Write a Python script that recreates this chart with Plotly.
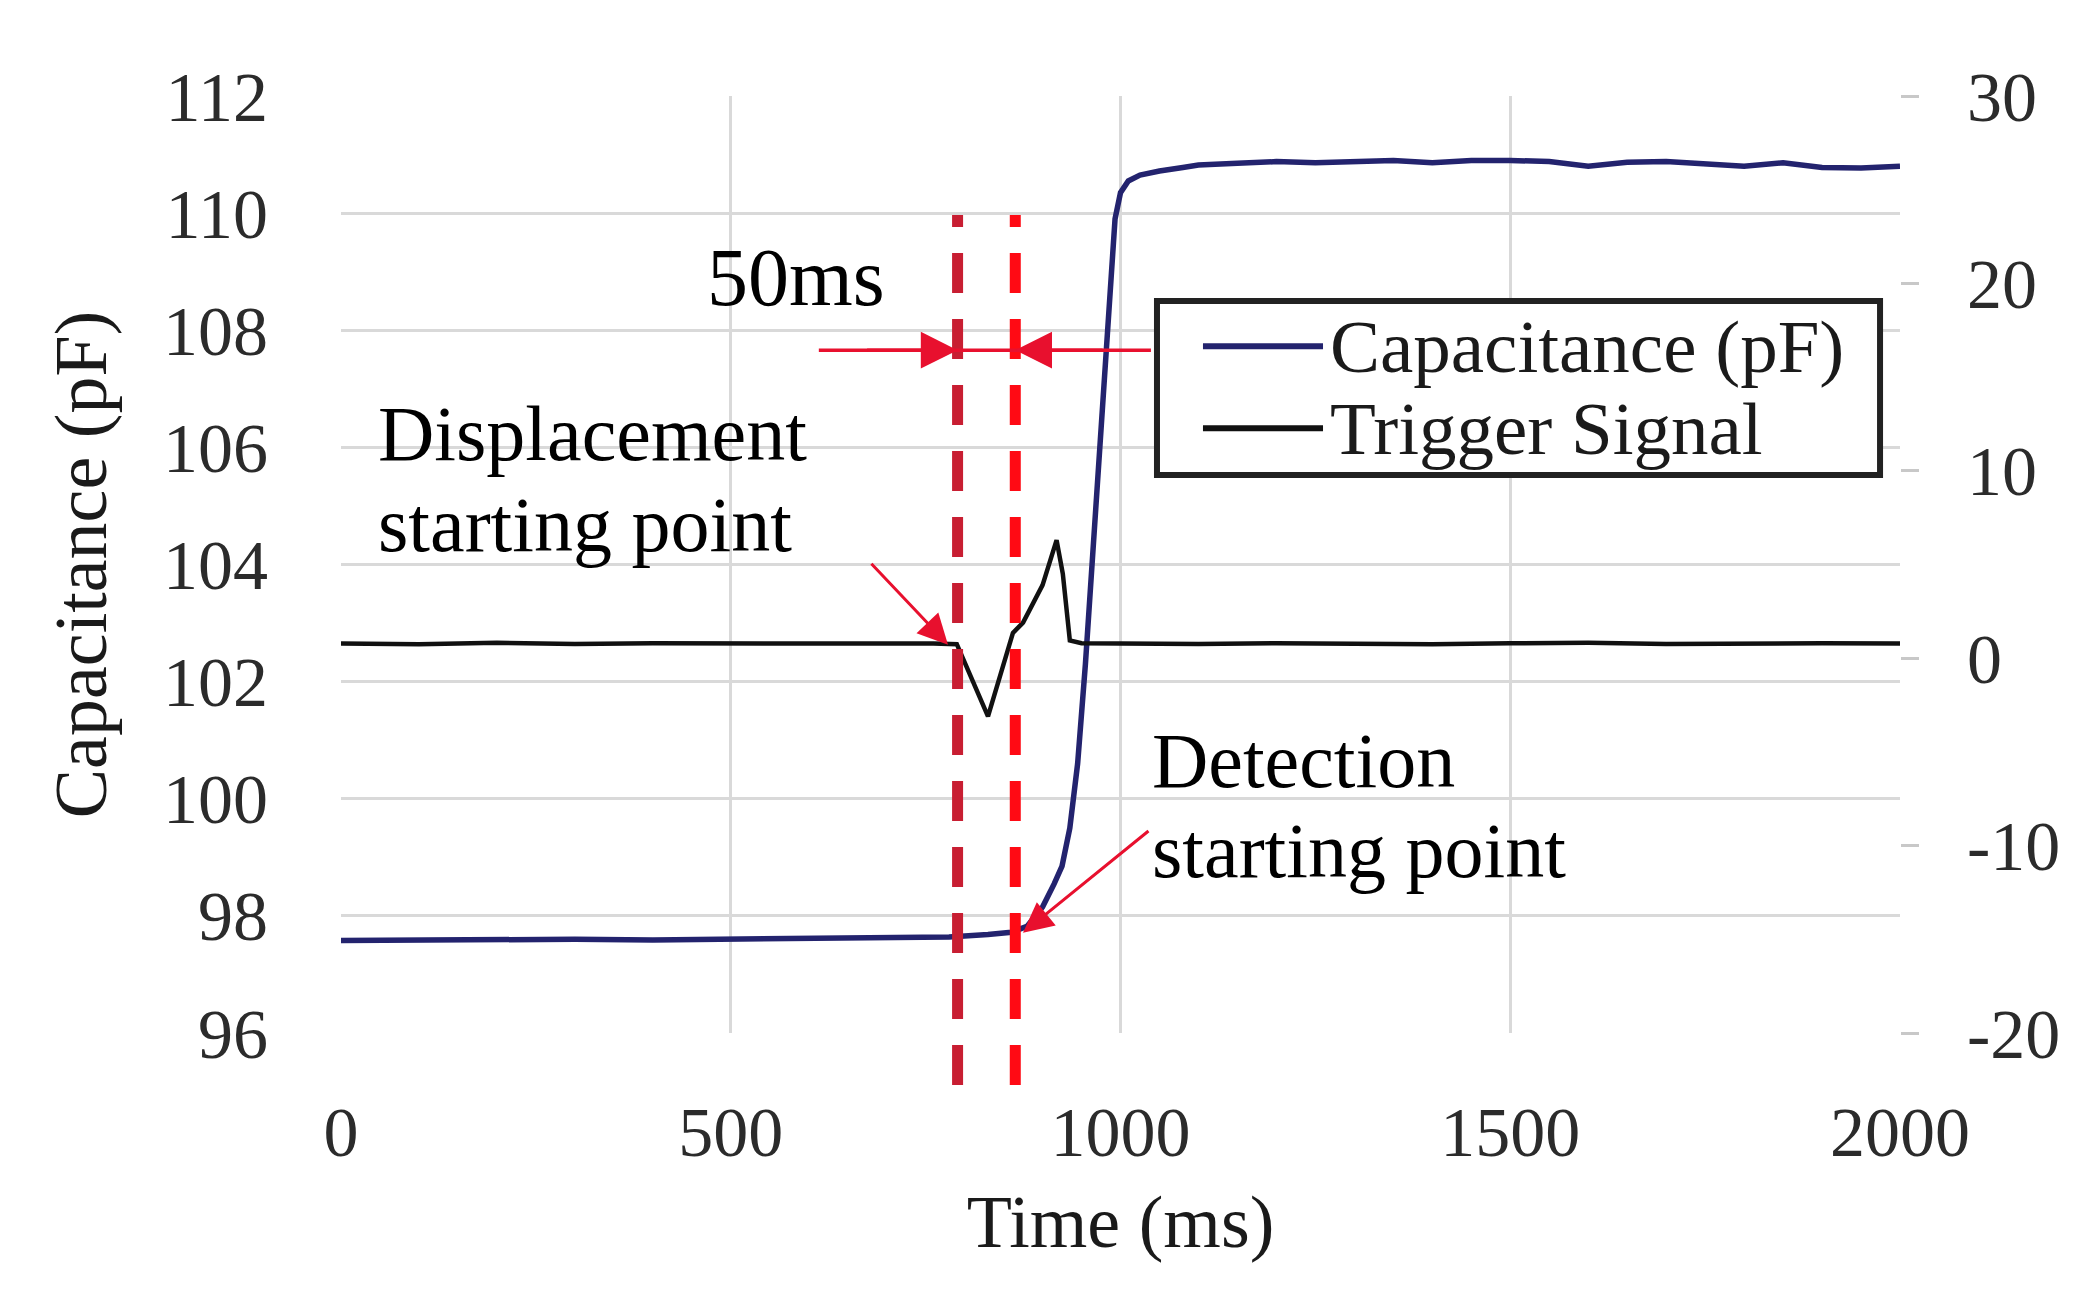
import plotly.graph_objects as go

# ---------------- data ----------------
cap_time = [0, 100, 200, 300, 400, 500, 600, 700, 780, 830, 860, 880, 900, 915, 925,
            935, 945, 955, 965, 975, 985, 993, 1000, 1010, 1025, 1050, 1080, 1100,
            1150, 1200, 1250, 1300, 1350, 1400, 1450, 1500, 1550, 1600, 1650, 1700,
            1750, 1800, 1850, 1900, 1950, 2000]
cap_pf = [97.58, 97.59, 97.58, 97.60, 97.59, 97.60, 97.61, 97.62, 97.64, 97.68, 97.72,
          97.82, 98.15, 98.55, 98.85, 99.5, 100.6, 102.3, 104.3, 106.3, 108.6, 109.9,
          110.35, 110.55, 110.65, 110.72, 110.78, 110.82, 110.85, 110.88, 110.86,
          110.88, 110.9, 110.86, 110.9, 110.9, 110.88, 110.8, 110.87, 110.88, 110.85,
          110.8, 110.86, 110.78, 110.77, 110.8]

trig_time = [0, 100, 200, 300, 400, 500, 600, 700, 760, 790, 830, 862, 875, 900, 918,
             926, 935, 950, 1000, 1100, 1200, 1300, 1400, 1500, 1600, 1700, 1800, 1900,
             2000]
trig_v = [0.78, 0.74, 0.82, 0.76, 0.8, 0.78, 0.74, 0.78, 0.78, 0.75, -3.1, 1.35, 1.9,
          3.9, 6.3, 4.5, 0.95, 0.8, 0.78, 0.76, 0.8, 0.78, 0.74, 0.8, 0.82, 0.76, 0.8,
          0.8, 0.78]

x_ticks = [0, 500, 1000, 1500, 2000]
y_left_ticks = [96, 98, 100, 102, 104, 106, 108, 110, 112]
y_right_ticks = [-20, -10, 0, 10, 20, 30]

# dashed markers: displacement start / detection start (ms)
marker_times = [791, 865]
# 50 ms dimension line level (pF) and its extent (ms)
dim_level = 107.66
dim_extent = [613, 1039]

series_names = ["Capacitance (pF)", "Trigger Signal"]
series_colors = ["#23236e", "#111111"]

X_RANGE = [0, 2000]
YL_RANGE = [96, 112]
YR_RANGE = [-20, 30]

FONT = "Liberation Serif"
RED = "#e8102e"

fig = go.Figure()
fig.add_trace(go.Scatter(x=cap_time, y=cap_pf, mode="lines", name=series_names[0],
                         line=dict(color=series_colors[0], width=5.5), yaxis="y"))
fig.add_trace(go.Scatter(x=trig_time, y=trig_v, mode="lines", name=series_names[1],
                         line=dict(color=series_colors[1], width=4.5), yaxis="y2"))

shapes = []
# red dashed vertical marker lines (extend beyond the plot bottom)
for t, c in zip(marker_times, ["#c81e32", "#ff0a14"]):
    shapes.append(dict(type="line", xref="x", yref="paper", x0=t, x1=t,
                       y0=-0.0555, y1=0.873,
                       line=dict(color=c, width=11, dash="40px,26px")))
# 50 ms dimension line
shapes.append(dict(type="line", xref="x", yref="y", x0=dim_extent[0], x1=dim_extent[1],
                   y0=dim_level, y1=dim_level, line=dict(color=RED, width=3.5)))

# custom legend box (Excel style, long line samples)
lx0, lx1, ly0, ly1 = 0.5234, 0.9872, 0.5955, 0.7812
shapes.append(dict(type="rect", xref="paper", yref="paper", x0=lx0, x1=lx1, y0=ly0, y1=ly1,
                   fillcolor="white", line=dict(color="#222222", width=6), layer="above"))
row_y = [0.7330, 0.6455]
for ry, col in zip(row_y, series_colors):
    shapes.append(dict(type="line", xref="paper", yref="paper", x0=0.5529, x1=0.6299,
                       y0=ry, y1=ry, line=dict(color=col, width=6), layer="above"))

annotations = []
for ry, name in zip(row_y, series_names):
    annotations.append(dict(xref="paper", yref="paper", x=0.6330, y=ry, text=name,
                            showarrow=False, xanchor="left", yanchor="middle",
                            font=dict(family=FONT, size=75, color="#1a1a1a")))

# dimension arrows
annotations.append(dict(xref="x", yref="y", axref="x", ayref="y", x=marker_times[0],
                        y=dim_level, ax=dim_extent[0] + 60, ay=dim_level, text="",
                        showarrow=True, arrowhead=2, arrowsize=2.1, arrowwidth=3.5,
                        arrowcolor=RED, standoff=0))
annotations.append(dict(xref="x", yref="y", axref="x", ayref="y", x=marker_times[1],
                        y=dim_level, ax=dim_extent[1] - 60, ay=dim_level, text="",
                        showarrow=True, arrowhead=2, arrowsize=2.1, arrowwidth=3.5,
                        arrowcolor=RED, standoff=0))
# pointer arrows
annotations.append(dict(xref="x", yref="y", axref="x", ayref="y", x=778.7, y=102.63,
                        ax=678.6, ay=104.04, text="", showarrow=True, arrowhead=2,
                        arrowsize=2.0, arrowwidth=3, arrowcolor=RED, standoff=0))
annotations.append(dict(xref="x", yref="y", axref="x", ayref="y", x=874.9, y=97.71,
                        ax=1037.8, ay=99.47, text="", showarrow=True, arrowhead=2,
                        arrowsize=2.0, arrowwidth=3, arrowcolor=RED, standoff=0))

# text labels
for x, y, s, anchor, size in [
    (583.7, 108.9, "50ms", "center", 82),
    (45.0, 106.23, "Displacement", "left", 78),
    (45.0, 104.69, "starting point", "left", 78),
    (1038.0, 100.66, "Detection", "left", 78),
    (1038.0, 99.12, "starting point", "left", 78),
]:
    annotations.append(dict(xref="x", yref="y", x=x, y=y, text=s, showarrow=False,
                            xanchor=anchor, yanchor="middle",
                            font=dict(family=FONT, size=size, color="#000000")))

tick_font = dict(family=FONT, size=70, color="#2b2b2b")
title_font = dict(family=FONT, size=74, color="#1a1a1a")
GRID = "#d9d9d9"

# the page body adds an 8 px offset, so margins compensate for it
fig.update_layout(
    width=2098, height=1298,
    margin=dict(l=333, r=206, t=88, b=273),
    paper_bgcolor="white", plot_bgcolor="white",
    showlegend=False,
    shapes=shapes, annotations=annotations,
    xaxis=dict(range=X_RANGE, tickvals=x_ticks, ticktext=[str(v) for v in x_ticks],
               showgrid=True, gridcolor=GRID, gridwidth=3, zeroline=False,
               showline=False, ticks="", tickfont=tick_font, ticklabelstandoff=52,
               title=dict(text="Time (ms)", font=title_font, standoff=25)),
    yaxis=dict(range=YL_RANGE, tickvals=y_left_ticks,
               ticktext=[str(v) for v in y_left_ticks],
               showgrid=True, gridcolor=GRID, gridwidth=3, zeroline=False,
               showline=False, ticks="", tickfont=tick_font, ticklabelstandoff=72,
               title=dict(text="Capacitance (pF)", font=title_font, standoff=32)),
    yaxis2=dict(range=YR_RANGE, tickvals=y_right_ticks,
                ticktext=[str(v) for v in y_right_ticks],
                overlaying="y", side="right", showgrid=False, zeroline=False,
                showline=False, ticks="outside", ticklen=18, tickwidth=3,
                tickcolor="#c8c8c8", tickfont=tick_font, ticklabelstandoff=34),
)

fig.write_html("out.html")
